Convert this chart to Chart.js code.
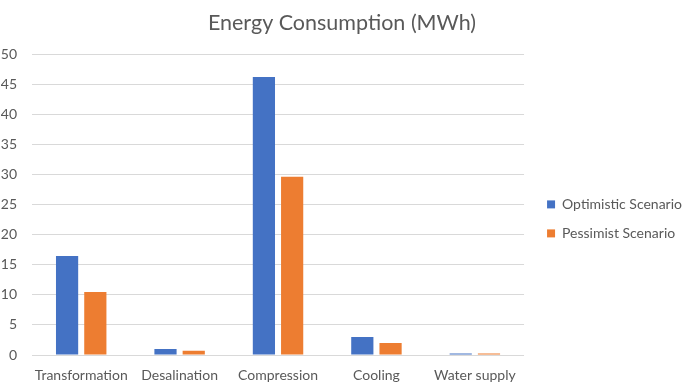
<!DOCTYPE html>
<html>
<head>
<meta charset="utf-8">
<script src="https://cdn.jsdelivr.net/npm/chart.js@4/dist/chart.umd.min.js"></script>
<style>
  html, body { margin: 0; padding: 0; background: #fff; }
  #wrap { width: 684px; height: 391px; }
</style>
</head>
<body>
<div id="wrap"><canvas id="energyChart"></canvas></div>
<script>
const categories = ['Transformation', 'Desalination', 'Compression', 'Cooling', 'Water supply'];
const optimistic = [16.5, 1.0, 46.3, 3.0, 0.25];
const pessimist = [10.5, 0.7, 29.7, 2.0, 0.25];
const yTicks = [0, 5, 10, 15, 20, 25, 30, 35, 40, 45, 50];

const FONT = 'Lato, "Open Sans", sans-serif';
const TEXT = '#595959';

// nudge the legend a bit to the right, like the Excel original
const legendShift = {
    id: 'legendShift',
    afterLayout(chart) {
        chart.legend.left += 8;
        chart.legend.right += 8;
    }
};

new Chart(document.getElementById('energyChart'), {
    type: 'bar',
    data: {
        labels: categories,
        datasets: [{
            label: 'Optimistic Scenario',
            data: optimistic,
            backgroundColor: '#4472C4',
            categoryPercentage: 0.574,
            barPercentage: 0.786
        }, {
            label: 'Pessimist Scenario',
            data: pessimist,
            backgroundColor: '#ED7D31',
            categoryPercentage: 0.574,
            barPercentage: 0.786
        }]
    },
    options: {
        responsive: true,
        maintainAspectRatio: false,
        animation: false,
        layout: { padding: { top: 10, left: 0, right: 0, bottom: 0 } },
        plugins: {
            title: {
                display: true,
                text: 'Energy Consumption (MWh)',
                color: TEXT,
                font: { family: FONT, size: 21.5, weight: 'normal' },
                padding: { top: 0, bottom: 19 }
            },
            legend: {
                position: 'right',
                align: 'center',
                title: { display: true, text: ' ', padding: { top: 0, bottom: 20 }, font: { size: 14 } },
                labels: {
                    color: TEXT,
                    font: { family: FONT, size: 14 },
                    boxWidth: 8,
                    boxHeight: 8,
                    padding: 15
                }
            },
            tooltip: { enabled: false }
        },
        scales: {
            x: {
                grid: { display: false },
                border: { display: false },
                afterFit: axis => { axis.paddingLeft = 0; axis.paddingRight = 0; axis.height = 36; },
                ticks: { color: TEXT, font: { family: FONT, size: 14 }, padding: 4, maxRotation: 0, minRotation: 0, autoSkip: false }
            },
            y: {
                min: 0,
                max: 50,
                afterBuildTicks: axis => { axis.ticks = yTicks.map(v => ({ value: v })); },
                afterFit: axis => { axis.width = 32; },
                grid: { color: '#D9D9D9', drawTicks: false },
                border: { display: false },
                ticks: { color: TEXT, font: { family: FONT, size: 14 }, padding: 15 }
            }
        }
    },
    plugins: [legendShift]
});
</script>
</body>
</html>
